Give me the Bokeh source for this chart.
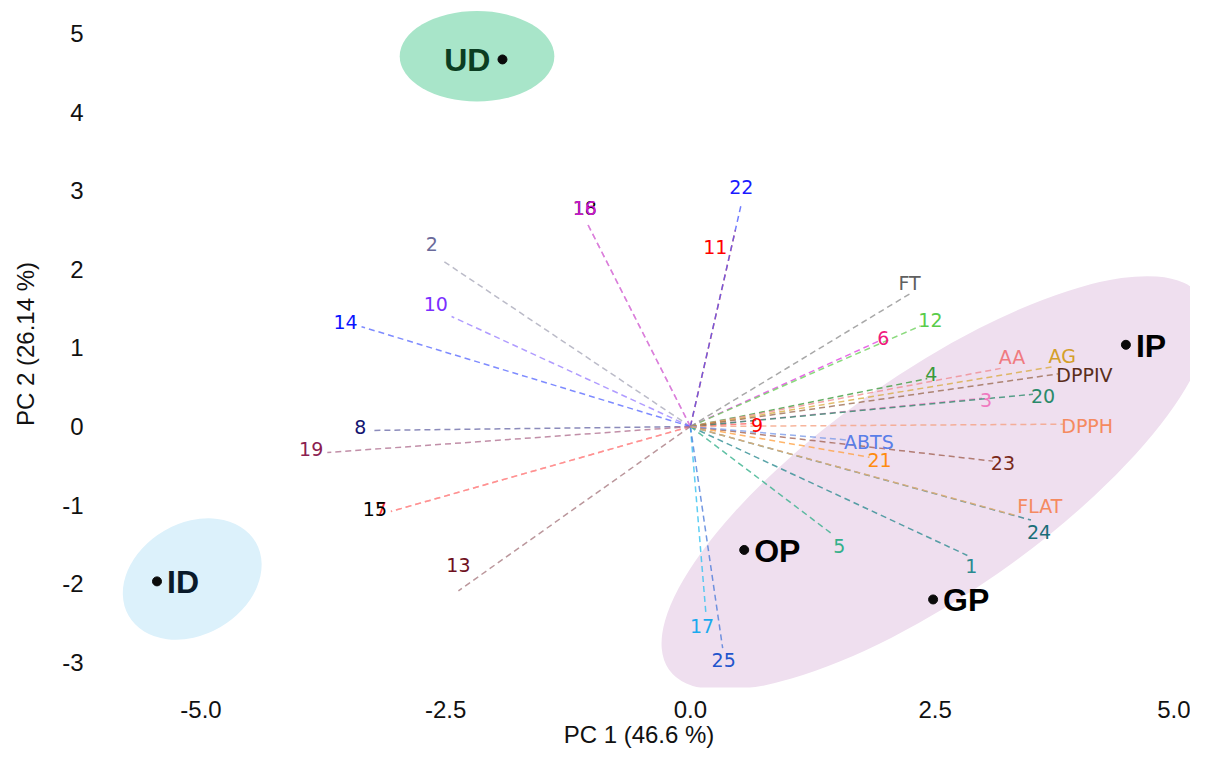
import math
from bokeh.plotting import figure
from bokeh.models import ColumnDataSource, Range1d, FixedTicker, PrintfTickFormatter
from bokeh.core.properties import value
from bokeh.embed import file_html
from bokeh.resources import INLINE

# ---------------- data ----------------
var_names = ["1", "2", "3", "4", "5", "6", "7", "15", "8", "9", "10", "11", "12", "13",
             "14", "18", "16", "17", "19", "20", "21", "22", "23", "24", "25",
             "AA", "AG", "DPPIV", "DPPH", "ABTS", "FLAT", "FT"]
pc1 = [2.83, -2.52, 2.98, 2.42, 1.44, 1.93, -3.06, -3.06, -3.27, 0.64, -2.44, 0.46, 2.35, -2.37,
       -3.36, -1.06, -1.06, 0.16, -3.71, 3.50, 1.83, 0.52, 3.09, 3.48, 0.33,
       3.17, 3.70, 3.76, 3.81, 1.59, 3.32, 2.27]
pc2 = [-1.64, 2.10, 0.36, 0.61, -1.36, 1.09, -1.08, -1.08, -0.05, 0.04, 1.40, 2.50, 1.28, -2.09,
       1.27, 2.60, 2.60, -2.40, -0.33, 0.41, -0.39, 2.83, -0.44, -1.19, -2.82,
       0.74, 0.76, 0.67, 0.03, -0.17, -1.13, 1.71]
var_colors = ["#2a8a8f", "#6a6a9a", "#f07ac0", "#3a9a3a", "#33b08a", "#f0197d", "#ff3030", "#000000",
              "#141470", "#ff0000", "#7b30ff", "#ff0000", "#5acc4a", "#6e1020",
              "#0a14ff", "#000000", "#cc18cc", "#1aaaee", "#8b2050", "#2a8a6a", "#ff8c10",
              "#1a1aff", "#7a2a1a", "#1a6e78", "#2255cc",
              "#f07a80", "#d4a02a", "#5a2e1a", "#f58a60", "#5a7ee8", "#f58a60", "#606060"]
line_colors = ["#2a8a8f", "#a8a8b8", "#f07ac0", "#3a9a3a", "#33b08a", "#e040e0", "#ff8c8c", "#ff8c8c",
               "#6a6aa8", "#ff6060", "#9a80ff", "#ff3030", "#6ad05a", "#a87a80",
               "#5a6aff", "#d878d8", "#d878d8", "#30c0f0", "#b07090", "#2a8a6a", "#ffa040",
               "#4a5aff", "#a06050", "#2a7e88", "#4a7ad8",
               "#f08a90", "#d8aa40", "#9a6a50", "#f5a080", "#7a9ae8", "#f5b070", "#909090"]

groups = ["ID", "UD", "IP", "OP", "GP"]
grp_x = [-5.45, -1.92, 4.45, 0.55, 2.48]
grp_y = [-1.97, 4.67, 1.04, -1.57, -2.20]
grp_text_colors = ["#0a1a2a", "#0b3d22", "#000000", "#000000", "#000000"]

ell_names = ["ID", "UD", "Pulses"]
ell_x = [-5.09, -2.18, 2.50]
ell_y = [-1.94, 4.71, -0.72]
ell_w = [1.50, 1.58, 6.64]
ell_h = [1.42, 1.15, 2.80]
ell_angle_deg = [30, 0, 35]
ell_colors = ["#dcf1fb", "#a8e5c9", "#efdfef"]

x_ticks = [-5.0, -2.5, 0.0, 2.5, 5.0]
y_ticks = [-3, -2, -1, 0, 1, 2, 3, 4, 5]

# label nudges (screen px) for a few labels: (dx, dy_down, align, baseline)
label_nudge = {
    "11": (-8, 17, "right", "middle"),
    "13": (0, -19, "center", "bottom"),
    "22": (0, -10, "center", "bottom"),
    "2": (-6, -10, "right", "bottom"),
    "24": (-4, 5, "left", "top"),
    "FT": (-3, 2, "center", "bottom"),
    "AG": (-4, 0, "left", "bottom"),
    "AA": (-2, 0, "left", "bottom"),
    "5": (2, 6, "left", "top"),
    "FLAT": (2, 2, "left", "bottom"),
    "6": (-2, 4, "left", "bottom"),
    "4": (-2, 2, "left", "bottom"),
    "17": (-4, 4, "center", "top"),
    "25": (1, 5, "center", "top"),
}

# ---------------- figure ----------------
XMIN, XMAX = -6.16, 5.11
YMIN, YMAX = -3.32, 5.42
W, H = 1190, 755
ML, MR, MT, MB = 87, 0, 0, 68

p = figure(width=W, height=H, output_backend="svg", toolbar_location=None,
           x_range=Range1d(XMIN, XMAX), y_range=Range1d(YMIN, YMAX),
           min_border_left=ML, min_border_right=MR, min_border_top=MT, min_border_bottom=MB)
p.outline_line_color = None
p.grid.grid_line_color = None
p.background_fill_color = "white"

# ellipses
p.ellipse(x=ell_x, y=ell_y, width=ell_w, height=ell_h,
          angle=[math.radians(a) for a in ell_angle_deg],
          fill_color=ell_colors, line_color=None)

# vectors
n = len(var_names)
p.segment(x0=[0.0] * n, y0=[0.0] * n, x1=pc1, y1=pc2, line_color=line_colors,
          line_dash="6 4", line_width=1.5, line_alpha=0.78)

# label placement from vector direction (screen space)
kx = (W - ML - MR) / (XMAX - XMIN)
ky = (H - MT - MB) / (YMAX - YMIN)
aligns, bases, xo, yo = [], [], [], []
for name, x, y in zip(var_names, pc1, pc2):
    if name in label_nudge:
        dx, dyd, al, bl = label_nudge[name]
        aligns.append(al); bases.append(bl); xo.append(dx); yo.append(dyd)
        continue
    dx, dy = x * kx, y * ky
    L = math.hypot(dx, dy) or 1.0
    ux, uy = dx / L, dy / L
    aligns.append("left" if ux > 0.5 else ("right" if ux < -0.5 else "center"))
    bases.append("bottom" if uy > 0.35 else ("top" if uy < -0.35 else "middle"))
    if ux > 0.5:
        xo.append(ux * 1 - 3)
        yo.append(-uy * 3 + 2)
    else:
        xo.append(ux * 4)
        yo.append(-uy * 4 - 4)

src = ColumnDataSource(dict(x=pc1, y=pc2, t=var_names, c=var_colors,
                            a=aligns, b=bases, xo=xo, yo=yo))
p.text(x="x", y="y", text="t", text_color="c", text_align="a", text_baseline="b",
       x_offset="xo", y_offset="yo", text_font=value("DejaVu Sans"),
       text_font_size="19px", source=src)

# group centroids
p.scatter(x=grp_x, y=grp_y, size=9, color="#0a0a0a")
g_align = ["right" if g == "UD" else "left" for g in groups]
g_xo = [-12 if g == "UD" else 10 for g in groups]
gsrc = ColumnDataSource(dict(x=grp_x, y=grp_y, t=groups, c=grp_text_colors, a=g_align, xo=g_xo))
p.text(x="x", y="y", text="t", text_color="c", text_align="a", text_baseline="middle",
       x_offset="xo", y_offset=1, text_font=value("Liberation Sans"), text_font_style="bold",
       text_font_size="32px", source=gsrc)

# axes
for ax in (p.xaxis[0], p.yaxis[0]):
    ax.axis_line_color = None
    ax.major_tick_line_color = None
    ax.minor_tick_line_color = None
    ax.major_tick_out = 0
    ax.major_tick_in = 0
    ax.minor_tick_out = 0
    ax.minor_tick_in = 0
    ax.major_label_text_font = "Liberation Sans"
    ax.major_label_text_font_size = "24px"
    ax.major_label_text_color = "#111111"
    ax.axis_label_text_font = "Liberation Sans"
    ax.axis_label_text_font_size = "24px"
    ax.axis_label_text_font_style = "normal"
    ax.axis_label_text_color = "#111111"

p.xaxis.ticker = FixedTicker(ticks=x_ticks)
p.xaxis.formatter = PrintfTickFormatter(format="%.1f")
p.yaxis.ticker = FixedTicker(ticks=y_ticks)
p.yaxis.formatter = PrintfTickFormatter(format="%d")
p.xaxis.axis_label = "PC 1 (46.6 %)"
p.yaxis.axis_label = "PC 2 (26.14 %)"
p.xaxis.major_label_standoff = 13
p.xaxis.axis_label_standoff = 0
p.yaxis.major_label_standoff = 4
p.yaxis.axis_label_standoff = 20

open("out.html", "w").write(file_html(p, INLINE))
